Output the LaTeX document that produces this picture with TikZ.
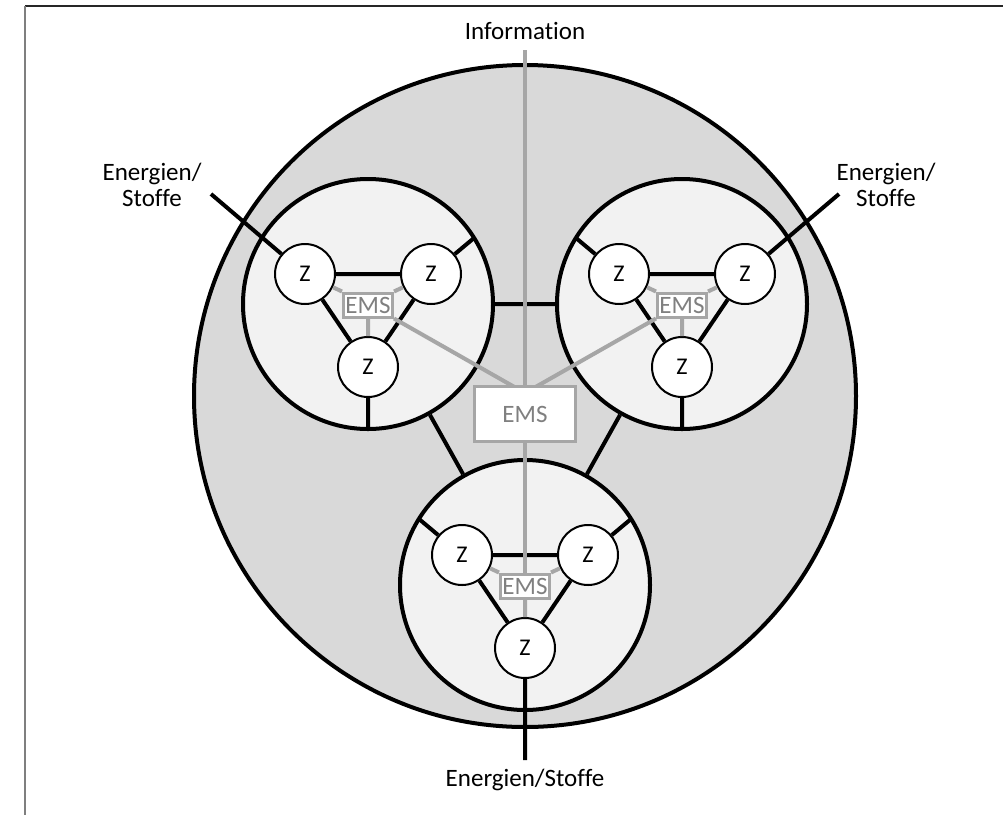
\documentclass[tikz,border=0pt]{standalone}
\usepackage{fontspec}
\setmainfont{Carlito}[Ligatures=NoCommon]
\usetikzlibrary{calc}
\definecolor{bigfill}{HTML}{D9D9D9}
\definecolor{subfill}{HTML}{F2F2F2}
\definecolor{linegray}{HTML}{A6A6A6}
\definecolor{textgray}{HTML}{808080}
\definecolor{framegray}{HTML}{7F7F7F}
\tikzset{
  sub/.style={circle, draw, line width=4pt, fill=subfill, minimum size=250pt, inner sep=0pt},
  zk/.style={circle, draw, line width=2pt, fill=white, minimum size=60pt, inner sep=0pt, font=\fontsize{24}{26}\selectfont},
  emss/.style={draw=linegray, line width=3pt, fill=white, text=textgray, minimum width=49pt, minimum height=24pt, inner sep=0pt, font=\fontsize{25}{28}\selectfont},
  emsb/.style={draw=linegray, line width=3pt, fill=white, text=textgray, minimum width=101pt, minimum height=55pt, inner sep=0pt, font=\fontsize{25}{28}\selectfont},
  conn/.style={line width=4pt},
  gline/.style={draw=linegray, line width=4pt},
  lbl/.style={inner sep=0pt, font=\fontsize{25}{26.5}\selectfont},
}
\newcommand\subsys[3]{%
\begin{scope}[shift={(#2,#3)}]
  \node[sub] (#1) at (0,0) {};
  \node[zk] (#1-z1) at (-63,-30) {Z};
  \node[zk] (#1-z2) at (63,-30) {Z};
  \node[zk] (#1-z3) at (0,63) {Z};
  \node[emss] (#1-ems) at (0,1) {EMS};
  \coordinate (#1-o1) at (-106,-66);
  \coordinate (#1-o2) at (106,-66);
  \coordinate (#1-o3) at (0,125);
  \draw[conn] (#1-z1) -- (#1-z2) (#1-z1) -- (#1-z3) (#1-z2) -- (#1-z3);
  \draw[gline] (#1-ems.north west) -- (#1-z1) (#1-ems.north east) -- (#1-z2) (#1-ems.south) -- (#1-z3);
\end{scope}}
\begin{document}
\begin{tikzpicture}[x=1pt,y=-1pt]
  \useasboundingbox (0,0) rectangle (1007,815);
  \fill[white] (0,0) rectangle (1007,815);
  % frame
  \draw[line width=2pt, black!85] (25,6) -- (1003,6);
  \draw[line width=2pt, framegray] (25,6) -- (25,815);
  % big circle
  \draw[line width=4pt, fill=bigfill] (525,396) circle[radius=331];
  % subsystems
  \subsys{a}{368}{304}
  \subsys{b}{682}{304}
  \subsys{c}{525}{585}
  % links between subsystems
  \draw[conn] (a) -- (b) (a) -- (c) (b) -- (c);
  % labels
  \node[lbl, anchor=base] (info) at (525,39) {Information};
  \coordinate (infotop) at (525,50);
  \node[lbl, align=center] (esA) at (152,185) {Energien/\\Stoffe};
  \node[lbl, align=center] (esB) at (886,185) {Energien/\\Stoffe};
  \node[lbl, anchor=base] (esC) at (525,786) {Energien/Stoffe};
  \coordinate (eA) at (211,194);
  \coordinate (eB) at (839,194);
  \coordinate (eC) at (525,760);
  % outward lines
  \draw[conn] (a-z1) -- (eA) (a-z2) -- (a-o2) (a-z3) -- (a-o3);
  \draw[conn] (b-z1) -- (b-o1) (b-z2) -- (eB) (b-z3) -- (b-o3);
  \draw[conn] (c-z1) -- (c-o1) (c-z2) -- (c-o2) (c-z3) -- (eC);
  % information lines
  \coordinate (hub) at (525,393);
  \draw[gline] (infotop) -- (hub);
  \draw[gline] (a-ems.south east) -- (hub);
  \draw[gline] (b-ems.south west) -- (hub);
  \node[emsb] (cems) at (525,414) {EMS};
  \draw[gline] (cems.south) -- (c-ems.north);
\end{tikzpicture}
\end{document}
